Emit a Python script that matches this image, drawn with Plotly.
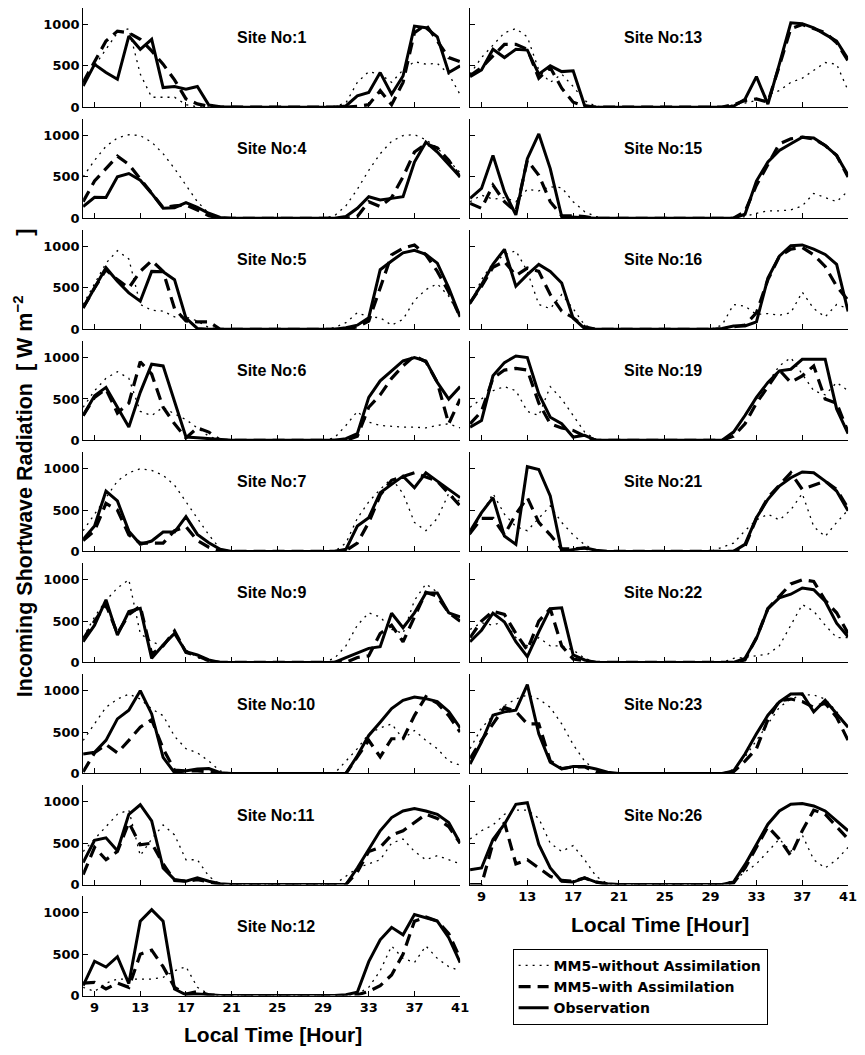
import plotly.graph_objects as go

hours = [8, 9, 10, 11, 12, 13, 14, 15, 16, 17, 18, 19, 20, 21, 22, 23, 24,
         25, 26, 27, 28, 29, 30, 31, 32, 33, 34, 35, 36, 37, 38, 39, 40, 41]
x_ticks = [9, 13, 17, 21, 25, 29, 33, 37, 41]
y_ticks = [0, 500, 1000]
left_sites = [1, 4, 5, 6, 7, 9, 10, 11, 12]
right_sites = [13, 15, 16, 19, 21, 22, 23, 26]

# Observation
obs_01 = [257, 518, 420, 337, 860, 700, 820, 237, 250, 217, 250, 25, 5, 0, 0, 0, 0, 0, 0, 0, 0, 0, 0, 15, 137, 177, 418, 157, 377, 980, 960, 850, 420, 500]
obs_04 = [140, 253, 250, 500, 540, 460, 300, 120, 128, 190, 130, 60, 10, 0, 0, 0, 0, 0, 0, 0, 0, 0, 0, 20, 120, 260, 220, 240, 260, 680, 920, 800, 650, 500]
obs_05 = [256, 500, 745, 580, 440, 340, 700, 695, 600, 135, 10, 0, 0, 0, 0, 0, 0, 0, 0, 0, 0, 0, 0, 20, 50, 140, 720, 825, 925, 955, 905, 800, 500, 150]
obs_06 = [300, 540, 640, 400, 160, 580, 920, 900, 480, 40, 30, 20, 5, 0, 0, 0, 0, 0, 0, 0, 0, 0, 0, 20, 80, 520, 720, 840, 960, 1000, 960, 700, 500, 650]
obs_07 = [145, 306, 730, 610, 245, 85, 125, 234, 234, 420, 205, 105, 25, 0, 0, 0, 0, 0, 0, 0, 0, 0, 0, 25, 306, 407, 710, 810, 910, 770, 950, 850, 750, 650]
obs_09 = [250, 450, 757, 330, 615, 655, 50, 210, 350, 130, 90, 30, 0, 0, 0, 0, 0, 0, 0, 0, 0, 0, 0, 57, 110, 170, 190, 595, 420, 600, 840, 840, 600, 550]
obs_10 = [235, 256, 400, 660, 765, 1000, 720, 195, 10, 30, 55, 60, 10, 0, 0, 0, 0, 0, 0, 0, 0, 0, 0, 0, 215, 460, 620, 785, 885, 925, 905, 870, 750, 550]
obs_11 = [265, 535, 565, 410, 850, 965, 770, 200, 60, 40, 80, 40, 10, 0, 0, 0, 0, 0, 0, 0, 0, 0, 0, 0, 200, 425, 650, 810, 890, 920, 890, 850, 750, 500]
obs_12 = [120, 415, 345, 470, 145, 900, 1040, 900, 80, 10, 20, 10, 0, 0, 0, 0, 0, 0, 0, 0, 0, 0, 0, 10, 40, 410, 675, 825, 735, 980, 940, 900, 700, 400]
obs_13 = [370, 450, 700, 600, 700, 690, 400, 500, 430, 440, 20, 0, 0, 0, 0, 0, 0, 0, 0, 0, 0, 0, 0, 10, 96, 370, 36, 520, 1020, 1010, 960, 880, 800, 580]
obs_15 = [240, 360, 760, 320, 40, 720, 1020, 600, 20, 10, 5, 0, 0, 0, 0, 0, 0, 0, 0, 0, 0, 0, 0, 0, 48, 450, 680, 820, 900, 980, 970, 880, 760, 520]
obs_16 = [317, 540, 785, 967, 520, 660, 785, 700, 560, 135, 10, 0, 0, 0, 0, 0, 0, 0, 0, 0, 0, 0, 10, 40, 40, 90, 620, 885, 1010, 1020, 970, 905, 785, 215]
obs_19 = [160, 240, 780, 940, 1020, 1000, 560, 280, 200, 40, 60, 0, 0, 0, 0, 0, 0, 0, 0, 0, 0, 0, 0, 100, 300, 520, 700, 840, 860, 980, 980, 980, 380, 80]
obs_21 = [245, 468, 650, 185, 85, 1024, 990, 670, 0, 25, 45, 15, 0, 0, 0, 0, 0, 0, 0, 0, 0, 0, 0, 0, 85, 407, 630, 790, 890, 960, 950, 850, 730, 490]
obs_22 = [250, 390, 595, 490, 250, 70, 370, 650, 660, 90, 30, 0, 0, 0, 0, 0, 0, 0, 0, 0, 0, 0, 0, 0, 50, 290, 650, 780, 825, 900, 880, 740, 475, 310]
obs_23 = [115, 380, 705, 745, 765, 1075, 480, 135, 55, 85, 85, 55, 15, 0, 0, 0, 0, 0, 0, 0, 0, 0, 0, 30, 235, 480, 705, 865, 960, 965, 745, 885, 725, 560]
obs_26 = [180, 200, 545, 730, 970, 990, 485, 200, 40, 30, 80, 30, 10, 0, 0, 0, 0, 0, 0, 0, 0, 0, 0, 30, 240, 485, 730, 890, 970, 980, 950, 890, 770, 650]

# MM5 with assimilation
asm_01 = [300, 560, 800, 920, 900, 820, 680, 520, 330, 100, 40, 10, 0, 0, 0, 0, 0, 0, 0, 0, 0, 0, 0, 0, 10, 30, 200, 30, 300, 900, 1000, 800, 600, 550]
asm_04 = [200, 450, 600, 750, 650, 480, 300, 130, 150, 160, 100, 30, 0, 0, 0, 0, 0, 0, 0, 0, 0, 0, 0, 0, 20, 200, 140, 250, 500, 800, 900, 850, 700, 500]
asm_05 = [260, 500, 720, 600, 500, 700, 830, 700, 250, 100, 90, 90, 0, 0, 0, 0, 0, 0, 0, 0, 0, 0, 0, 0, 30, 100, 500, 900, 980, 1020, 900, 700, 450, 150]
asm_06 = [300, 520, 620, 330, 450, 950, 800, 400, 200, 30, 150, 100, 0, 0, 0, 0, 0, 0, 0, 0, 0, 0, 0, 0, 50, 400, 550, 750, 900, 1020, 950, 700, 200, 500]
asm_07 = [130, 250, 580, 500, 200, 100, 100, 100, 250, 300, 130, 50, 0, 0, 0, 0, 0, 0, 0, 0, 0, 0, 0, 10, 100, 350, 680, 860, 900, 950, 900, 850, 700, 550]
asm_09 = [280, 500, 700, 350, 580, 680, 100, 200, 380, 120, 80, 20, 0, 0, 0, 0, 0, 0, 0, 0, 0, 0, 0, 0, 60, 80, 350, 450, 250, 550, 850, 800, 600, 500]
asm_10 = [20, 250, 350, 250, 400, 560, 650, 300, 40, 30, 30, 20, 0, 0, 0, 0, 0, 0, 0, 0, 0, 0, 0, 0, 200, 400, 200, 420, 420, 700, 930, 850, 700, 500]
asm_11 = [120, 450, 300, 400, 750, 480, 500, 250, 50, 40, 60, 30, 0, 0, 0, 0, 0, 0, 0, 0, 0, 0, 0, 0, 150, 400, 450, 600, 650, 750, 850, 800, 700, 500]
asm_12 = [150, 160, 80, 150, 100, 500, 550, 350, 100, 20, 50, 10, 0, 0, 0, 0, 0, 0, 0, 0, 0, 0, 0, 0, 10, 50, 120, 250, 500, 900, 950, 900, 750, 450]
asm_13 = [380, 480, 620, 760, 760, 700, 350, 480, 230, 60, 10, 0, 0, 0, 0, 0, 0, 0, 0, 0, 0, 0, 0, 30, 80, 100, 60, 500, 950, 1000, 950, 900, 780, 560]
asm_15 = [180, 120, 400, 200, 80, 700, 520, 200, 30, 30, 20, 0, 0, 0, 0, 0, 0, 0, 0, 0, 0, 0, 0, 0, 80, 400, 650, 900, 960, 980, 960, 880, 760, 500]
asm_16 = [320, 520, 750, 820, 650, 740, 700, 420, 220, 140, 30, 0, 0, 0, 0, 0, 0, 0, 0, 0, 0, 0, 0, 30, 50, 200, 600, 880, 970, 990, 900, 760, 520, 350]
asm_19 = [200, 350, 750, 850, 870, 850, 450, 200, 150, 120, 50, 0, 0, 0, 0, 0, 0, 0, 0, 0, 0, 0, 0, 50, 200, 450, 650, 850, 700, 780, 900, 500, 450, 100]
asm_21 = [220, 400, 400, 200, 450, 650, 350, 200, 30, 30, 40, 0, 0, 0, 0, 0, 0, 0, 0, 0, 0, 0, 0, 0, 60, 400, 650, 800, 950, 750, 800, 850, 750, 520]
asm_22 = [300, 500, 620, 580, 350, 150, 500, 650, 200, 40, 20, 0, 0, 0, 0, 0, 0, 0, 0, 0, 0, 0, 0, 0, 30, 300, 650, 800, 950, 1000, 980, 750, 600, 350]
asm_23 = [180, 400, 600, 800, 750, 600, 600, 150, 60, 80, 80, 20, 0, 0, 0, 0, 0, 0, 0, 0, 0, 0, 0, 20, 150, 300, 650, 880, 900, 870, 800, 850, 680, 400]
asm_26 = [0, 0, 500, 750, 250, 300, 200, 100, 50, 40, 80, 30, 0, 0, 0, 0, 0, 0, 0, 0, 0, 0, 0, 20, 200, 450, 700, 550, 350, 650, 900, 850, 700, 550]

# MM5 without assimilation
noa_01 = [300, 500, 700, 900, 950, 400, 120, 120, 120, 30, 5, 0, 0, 0, 0, 0, 0, 0, 0, 0, 0, 0, 10, 50, 300, 430, 400, 300, 450, 550, 520, 530, 400, 150]
noa_04 = [500, 700, 870, 970, 1010, 1000, 920, 780, 600, 400, 200, 60, 10, 0, 0, 0, 0, 0, 0, 0, 0, 0, 30, 150, 350, 580, 780, 930, 1000, 1010, 950, 850, 700, 550]
noa_05 = [300, 550, 800, 950, 850, 300, 230, 220, 150, 150, 100, 20, 0, 0, 0, 0, 0, 0, 0, 0, 0, 0, 20, 80, 200, 150, 140, 50, 120, 350, 480, 550, 400, 150]
noa_06 = [400, 600, 750, 830, 750, 350, 300, 400, 320, 250, 150, 50, 0, 0, 0, 0, 0, 0, 0, 0, 0, 0, 30, 180, 350, 220, 180, 170, 160, 160, 150, 180, 200, 150]
noa_07 = [250, 450, 650, 850, 950, 1000, 980, 920, 800, 600, 400, 200, 30, 0, 0, 0, 0, 0, 0, 0, 0, 0, 0, 100, 400, 600, 750, 880, 700, 350, 250, 400, 700, 600]
noa_09 = [300, 550, 750, 900, 1000, 350, 250, 200, 370, 150, 60, 10, 0, 0, 0, 0, 0, 0, 0, 0, 0, 0, 50, 200, 450, 600, 550, 400, 350, 750, 950, 850, 600, 500]
noa_10 = [400, 600, 800, 900, 960, 900, 780, 700, 450, 300, 250, 150, 30, 0, 0, 0, 0, 0, 0, 0, 0, 0, 0, 150, 300, 480, 550, 600, 420, 520, 400, 300, 150, 100]
noa_11 = [400, 550, 700, 850, 900, 350, 550, 720, 600, 300, 300, 100, 0, 0, 0, 0, 0, 0, 0, 0, 0, 0, 0, 100, 200, 250, 300, 500, 550, 400, 300, 350, 300, 250]
noa_12 = [100, 50, 150, 200, 200, 200, 200, 220, 300, 350, 100, 20, 0, 0, 0, 0, 0, 0, 0, 0, 0, 0, 0, 0, 20, 100, 300, 600, 450, 400, 600, 450, 350, 300]
noa_13 = [400, 600, 750, 900, 950, 850, 450, 300, 400, 250, 80, 10, 0, 0, 0, 0, 0, 0, 0, 0, 0, 0, 0, 30, 50, 80, 150, 200, 300, 350, 450, 540, 520, 200]
noa_15 = [200, 280, 230, 250, 200, 350, 330, 380, 370, 200, 80, 20, 0, 0, 0, 0, 0, 0, 0, 0, 0, 0, 0, 0, 20, 60, 90, 90, 100, 150, 300, 250, 200, 330]
noa_16 = [300, 600, 800, 900, 950, 700, 300, 250, 420, 250, 50, 0, 0, 0, 0, 0, 0, 0, 0, 0, 0, 0, 50, 300, 280, 180, 190, 170, 200, 450, 250, 150, 300, 250]
noa_19 = [400, 500, 600, 650, 600, 350, 300, 650, 500, 300, 100, 10, 0, 0, 0, 0, 0, 0, 0, 0, 0, 0, 0, 100, 300, 500, 700, 900, 1000, 800, 600, 550, 700, 600]
noa_21 = [200, 450, 700, 450, 300, 250, 400, 550, 350, 200, 80, 10, 0, 0, 0, 0, 0, 0, 0, 0, 0, 0, 50, 100, 250, 380, 450, 380, 500, 700, 300, 180, 350, 500]
noa_22 = [400, 480, 450, 500, 300, 200, 300, 200, 200, 150, 50, 0, 0, 0, 0, 0, 0, 0, 0, 0, 0, 0, 0, 50, 60, 80, 100, 200, 450, 700, 620, 450, 300, 300]
noa_23 = [300, 550, 700, 820, 900, 950, 900, 800, 600, 350, 150, 30, 0, 0, 0, 0, 0, 0, 0, 0, 0, 0, 0, 50, 200, 400, 600, 800, 900, 950, 950, 900, 750, 550]
noa_26 = [550, 650, 720, 850, 900, 900, 800, 500, 400, 470, 300, 100, 10, 0, 0, 0, 0, 0, 0, 0, 0, 0, 0, 50, 150, 250, 400, 550, 400, 600, 300, 200, 300, 450]

obs = {1: obs_01, 4: obs_04, 5: obs_05, 6: obs_06, 7: obs_07, 9: obs_09, 10: obs_10, 11: obs_11, 12: obs_12,
       13: obs_13, 15: obs_15, 16: obs_16, 19: obs_19, 21: obs_21, 22: obs_22, 23: obs_23, 26: obs_26}
asm = {1: asm_01, 4: asm_04, 5: asm_05, 6: asm_06, 7: asm_07, 9: asm_09, 10: asm_10, 11: asm_11, 12: asm_12,
       13: asm_13, 15: asm_15, 16: asm_16, 19: asm_19, 21: asm_21, 22: asm_22, 23: asm_23, 26: asm_26}
noa = {1: noa_01, 4: noa_04, 5: noa_05, 6: noa_06, 7: noa_07, 9: noa_09, 10: noa_10, 11: noa_11, 12: noa_12,
       13: noa_13, 15: noa_15, 16: noa_16, 19: noa_19, 21: noa_21, 22: noa_22, 23: noa_23, 26: noa_26}

W, H = 865, 1055
FONT = "Liberation Sans, Arial, Helvetica, sans-serif"
WIDE = "DejaVu Sans, Verdana, sans-serif"
NB = "\u00a0"

fig = go.Figure()
layout = dict(width=W, height=H, margin=dict(l=0, r=0, t=0, b=0),
              paper_bgcolor="white", plot_bgcolor="white",
              font=dict(family=FONT, color="black"))
annotations = []

panels = [(s, 0, i) for i, s in enumerate(left_sites)] + [(s, 1, i) for i, s in enumerate(right_sites)]
col_px = [(84, 465), (475, 857)]

for k, (site, col, row) in enumerate(panels, start=1):
    zero_px = 108 + row * 111.9
    top_px = zero_px - 100
    x0, x1 = col_px[col]
    xa = "x" if k == 1 else f"x{k}"
    ya = "y" if k == 1 else f"y{k}"
    bottom = (col == 0 and row == 8) or (col == 1 and row == 7)
    layout["xaxis" if k == 1 else f"xaxis{k}"] = dict(
        domain=[x0 / W, x1 / W], anchor=ya, range=[8, 41],
        showline=True, linecolor="black", linewidth=1, mirror=False,
        ticks="inside", ticklen=5, tickwidth=1, tickcolor="black",
        tickvals=x_ticks, showticklabels=bottom, showgrid=False, zeroline=False,
        tickfont=dict(size=13, family=WIDE, weight="bold"))
    layout["yaxis" if k == 1 else f"yaxis{k}"] = dict(
        domain=[1 - zero_px / H, 1 - top_px / H], anchor=xa, range=[0, 1200],
        showline=True, linecolor="black", linewidth=1, mirror=False,
        ticks="inside", ticklen=5, tickwidth=1, tickcolor="black",
        tickvals=y_ticks, showticklabels=(col == 0), showgrid=False, zeroline=False,
        tickfont=dict(size=13, family=WIDE, weight="bold"))
    first = (k == 1)
    fig.add_trace(go.Scatter(x=hours, y=noa[site], mode="lines", xaxis=xa, yaxis=ya,
                             name="MM5–without Assimilation", legendgroup="noa", showlegend=first,
                             line=dict(color="black", width=1.3, dash="2px,5px")))
    fig.add_trace(go.Scatter(x=hours, y=asm[site], mode="lines", xaxis=xa, yaxis=ya,
                             name="MM5–with Assimilation", legendgroup="asm", showlegend=first,
                             line=dict(color="black", width=3.2, dash="12px,7px")))
    fig.add_trace(go.Scatter(x=hours, y=obs[site], mode="lines", xaxis=xa, yaxis=ya,
                             name="Observation", legendgroup="obs", showlegend=first,
                             line=dict(color="black", width=3)))
    annotations.append(dict(xref=xa, yref=ya, x=21.3, y=840, xanchor="left", yanchor="middle",
                            text=f"Site No:{site}", showarrow=False,
                            font=dict(size=16, family=FONT, weight="bold")))

ytitle = ("Incoming Shortwave Radiation" + NB * 2 + "[" + NB + "W" + NB + "m<sup>−2</sup>"
          + NB * 10 + "]")
annotations.append(dict(xref="paper", yref="paper", x=24 / W, y=1 - 466 / H, textangle=-90,
                        text=ytitle, showarrow=False,
                        xanchor="center", yanchor="middle",
                        font=dict(size=21.5, family=FONT, weight="bold")))
annotations.append(dict(xref="paper", yref="paper", x=276 / W, y=1 - 1042 / H,
                        text="Local Time [Hour]", showarrow=False, xanchor="center", yanchor="middle",
                        font=dict(size=21, family=FONT, weight="bold")))
annotations.append(dict(xref="paper", yref="paper", x=667 / W, y=1 - 932 / H,
                        text="Local Time [Hour]", showarrow=False, xanchor="center", yanchor="middle",
                        font=dict(size=21, family=FONT, weight="bold")))

layout["annotations"] = annotations
layout["showlegend"] = True
layout["legend"] = dict(x=518 / W, y=1 - 956 / H, xanchor="left", yanchor="top",
                        bordercolor="black", borderwidth=1, bgcolor="white",
                        font=dict(size=14, family=WIDE, weight="bold"),
                        tracegroupgap=0, itemwidth=30,
                        indentation=0)
fig.update_layout(**layout)
fig.write_html("out.html")
